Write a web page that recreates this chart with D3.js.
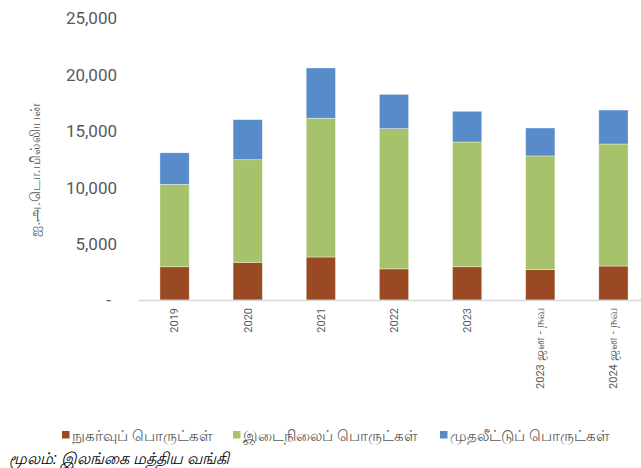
<!DOCTYPE html>
<html><head><meta charset="utf-8">
<script src="https://cdn.jsdelivr.net/npm/d3@7"></script>
<style>
html,body{margin:0;padding:0;background:#fff;}
svg{display:block;font-family:Roboto,"Noto Sans",sans-serif;}
</style></head>
<body><svg id="c" width="641" height="468"></svg>
<script>
const categories = ["2019","2020","2021","2022","2023","2023 ஜன - நவ","2024 ஜன - நவ"];
const consumer = [2950, 3340, 3810, 2760, 2950, 2690, 3010];
const intermediate = [7300, 9100, 12300, 12430, 11060, 10080, 10820];
const investment = [2800, 3550, 4460, 3040, 2720, 2480, 3010];
const seriesNames = ["நுகர்வுப் பொருட்கள்","இடைநிலைப் பொருட்கள்","முதலீட்டுப் பொருட்கள்"];
const seriesColors = ["#994A22","#A6C36B","#578BC9"];
const yTicks = [0,5000,10000,15000,20000,25000];
const yTitle = "ஐ.அ.டொ.மில்லியன்";
const source = "மூலம்: இலங்கை மத்திய வங்கி";

const svg = d3.select("#c");
const keys = ["consumer","intermediate","investment"];
const rows = categories.map((c,i)=>({cat:c, consumer:consumer[i], intermediate:intermediate[i], investment:investment[i]}));
const stack = d3.stack().keys(keys)(rows);

const x = d3.scaleBand().domain(categories).range([138, 650]).paddingInner(0.6).paddingOuter(0.3);
const y = d3.scaleLinear().domain([0,25000]).range([300, 18]);

// bars
svg.append("g").selectAll("g").data(stack).join("g")
  .attr("fill",(d,i)=>seriesColors[i])
  .selectAll("rect").data(d=>d).join("rect")
  .attr("x",d=>x(d.data.cat))
  .attr("width",x.bandwidth())
  .attr("y",d=>y(d[1]))
  .attr("height",d=>y(d[0])-y(d[1]))
  .attr("stroke","#fff").attr("stroke-opacity",0.5).attr("stroke-width",0.75);

// x baseline
svg.append("line").attr("x1",138).attr("x2",641).attr("y1",y(0)+0.5).attr("y2",y(0)+0.5)
  .attr("stroke","#d9d9d9").attr("stroke-width",1.3);

// y axis labels
const fmt = d => d===0 ? "-" : d3.format(",")(d);
const yAxis = d3.axisLeft(y).tickValues(yTicks).tickFormat(fmt).tickSize(0).tickPadding(0);
const ya = svg.append("g").attr("transform","translate(117,0)").call(yAxis);
ya.select(".domain").remove();
ya.selectAll("text").attr("font-size",17).attr("fill","#595959").attr("font-family","Roboto,sans-serif")
  .attr("dy","0.35em")
  .attr("dx",d=>d===0? -6 : 0);

// x axis labels
const xAxis = d3.axisBottom(x).tickSize(0).tickPadding(0).tickFormat("");
const xa = svg.append("g").attr("transform","translate(0,300)").call(xAxis);
xa.select(".domain").remove();
xa.selectAll("text").each(function(d){
  const t = d3.select(this)
    .attr("font-size",11).attr("fill","#595959")
    .attr("font-family","Roboto,'Noto Sans',sans-serif")
    .attr("text-anchor","end")
    .attr("transform","translate(0,8) rotate(-90)")
    .attr("x",0).attr("y",0).attr("dy","0.35em");
  const parts = d.split(" ");
  parts.forEach((p,i)=>{
    const isTamil = /[\u0B80-\u0BFF]/.test(p);
    t.append("tspan").attr("font-size", isTamil?13:11).text((i>0?" ":"")+p);
  });
});

// y title
svg.append("text").attr("transform","translate(35,170) rotate(-90)")
  .attr("text-anchor","middle").attr("dy","0.35em")
  .attr("font-size",14).attr("fill","#595959").text(yTitle);

// legend
const legX = [62, 233, 440];
const leg = svg.append("g");
seriesNames.forEach((n,i)=>{
  leg.append("rect").attr("x",legX[i]).attr("y",431).attr("width",7.5).attr("height",7.5).attr("fill",seriesColors[i]);
  leg.append("text").attr("x",legX[i]+10).attr("y",441).attr("font-size",15).attr("fill","#595959").text(n);
});

// source
svg.append("text").attr("x",9).attr("y",464).attr("font-size",16).attr("font-style","italic")
  .attr("fill","#000").text(source);
</script></body></html>
